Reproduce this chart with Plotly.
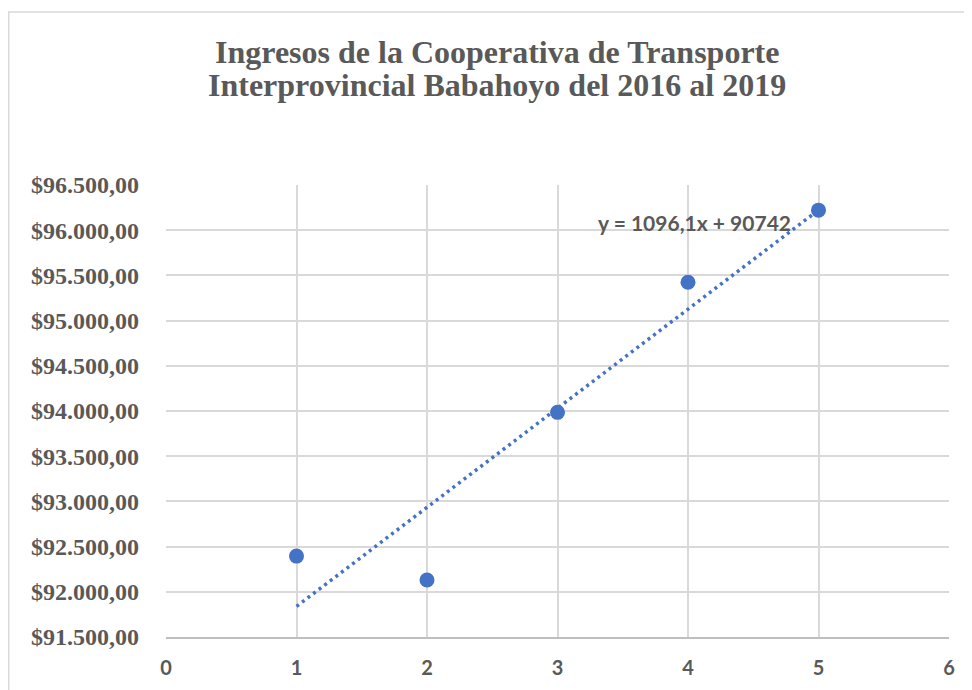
import plotly.graph_objects as go

# Data
periods = [1, 2, 3, 4, 5]
ingresos = [92395, 92130, 93985, 95425, 96222]
trend_slope = 1096.1
trend_intercept = 90742
trend_label = "y = 1096,1x + 90742"
title_lines = ["Ingresos de la Cooperativa de Transporte",
               "Interprovincial Babahoyo del 2016 al 2019"]
x_ticks = [0, 1, 2, 3, 4, 5, 6]
y_ticks = [91500, 92000, 92500, 93000, 93500, 94000, 94500, 95000, 95500, 96000, 96500]
y_tick_labels = ["$91.500,00", "$92.000,00", "$92.500,00", "$93.000,00", "$93.500,00",
                 "$94.000,00", "$94.500,00", "$95.000,00", "$95.500,00", "$96.000,00",
                 "$96.500,00"]

blue = "#4472C4"
gray_text = "#595959"
grid = "#d9d9d9"
serif = "Liberation Serif, Times New Roman, serif"
sans = "Lato, Liberation Sans, sans-serif"

trend_x = [periods[0], periods[-1]]
trend_y = [trend_slope * x + trend_intercept for x in trend_x]

fig = go.Figure()
fig.add_trace(go.Scatter(
    x=trend_x, y=trend_y, mode="lines",
    line=dict(color=blue, width=3.5, dash="3px,4px"),
    hoverinfo="skip", showlegend=False))
fig.add_trace(go.Scatter(
    x=periods, y=ingresos, mode="markers",
    marker=dict(color=blue, size=15, line=dict(width=0)),
    showlegend=False))

fig.add_annotation(
    x=4.05, y=96090, xref="x", yref="y", text="<b>" + trend_label + "</b>", showarrow=False,
    font=dict(family=sans, size=21, color=gray_text),
)

# Title as two lines (tight line spacing like the original)
for line, ypos in zip(title_lines, [1.294, 1.221]):
    fig.add_annotation(
        x=0.4227, y=ypos, xref="paper", yref="paper", xanchor="center", yanchor="middle",
        text="<b>" + line + "</b>", showarrow=False,
        font=dict(family=serif, size=32, color=gray_text),
    )

fig.update_layout(
    width=972, height=690,
    paper_bgcolor="white", plot_bgcolor="white",
    margin=dict(l=158, r=31, t=177, b=61),
    xaxis=dict(range=[0, 6], tickvals=x_ticks, ticktext=[f"<b>{v}</b>" for v in x_ticks],
               showgrid=True, gridcolor=grid, gridwidth=1.5, zeroline=False,
               showline=True, linecolor="#bfbfbf", linewidth=1.5, mirror=False,
               ticks="", ticklabelstandoff=12,
               tickfont=dict(family=sans, size=20, color=gray_text)),
    yaxis=dict(range=[91500, 96500], tickvals=y_ticks,
               ticktext=[f"<b>{t}</b>" for t in y_tick_labels],
               showgrid=True, gridcolor=grid, gridwidth=1.5, zeroline=False,
               showline=False, ticks="", ticklabelstandoff=26,
               tickfont=dict(family=serif, size=24, color=gray_text)),
)

# chart border
fig.add_shape(type="rect", xref="paper", yref="paper",
              x0=(0.75 - 158) / 783, x1=(985 - 158) / 783,
              y0=(629 - 700) / 452, y1=(629 - 4) / 452,
              line=dict(color="#d9d9d9", width=1.5), fillcolor="rgba(0,0,0,0)", layer="below")

fig.write_html("out.html")
